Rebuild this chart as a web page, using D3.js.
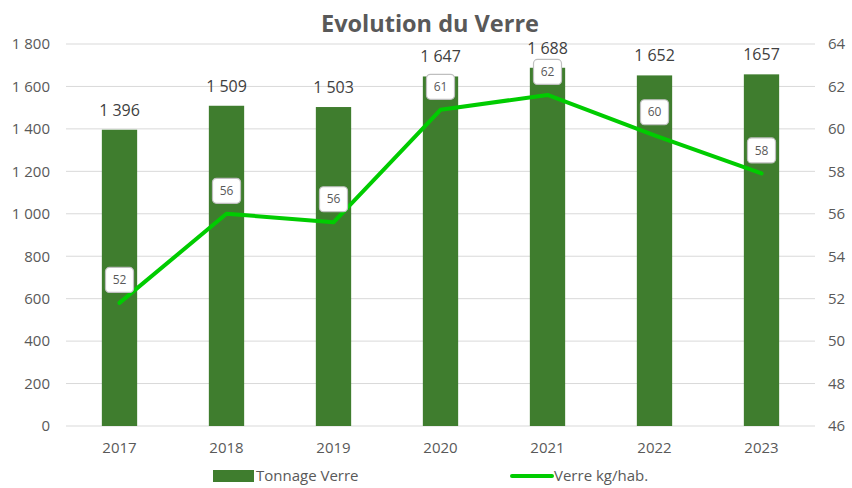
<!DOCTYPE html>
<html>
<head>
<meta charset="utf-8">
<script src="https://cdn.jsdelivr.net/npm/d3@7"></script>
<style>
  body { margin: 0; background: #fff; }
  svg text { font-family: "Open Sans", Lato, sans-serif; }
</style>
</head>
<body>
<svg id="chart" width="852" height="488"></svg>
<script>
// data
var years = ["2017", "2018", "2019", "2020", "2021", "2022", "2023"];
var tonnage = [1396, 1509, 1503, 1647, 1688, 1652, 1657];
var tonnageLabels = ["1 396", "1 509", "1 503", "1 647", "1 688", "1 652", "1657"];
var kgHab = [51.8, 56.0, 55.6, 60.9, 61.6, 59.7, 57.9];
var leftTicks = [0, 200, 400, 600, 800, 1000, 1200, 1400, 1600, 1800];
var rightTicks = [46, 48, 50, 52, 54, 56, 58, 60, 62, 64];

var svg = d3.select("#chart");
var margin = {left: 66, right: 37, top: 44, bottom: 62};
var width = +svg.attr("width"), height = +svg.attr("height");
var x0 = margin.left, x1 = width - margin.right;
var yBottom = height - margin.bottom, yTop = margin.top;

var textColor = "#595959";
var fmt = function (v) { return d3.format(",")(v).replace(/,/g, " "); };

var x = d3.scaleBand().domain(years).range([x0, x1]).paddingInner(0.67).paddingOuter(0.335);
var yL = d3.scaleLinear().domain([0, 1800]).range([yBottom, yTop]);
var yR = d3.scaleLinear().domain([46, 64]).range([yBottom, yTop]);

// title
svg.append("text")
    .attr("x", 430).attr("y", 32)
    .attr("text-anchor", "middle")
    .attr("font-size", "23.5px").attr("font-weight", "bold")
    .attr("fill", textColor)
    .text("Evolution du Verre");

// gridlines
svg.append("g").selectAll("line")
    .data(leftTicks).enter().append("line")
    .attr("x1", x0).attr("x2", x1)
    .attr("y1", function (d) { return yL(d); })
    .attr("y2", function (d) { return yL(d); })
    .attr("stroke", "#d9d9d9").attr("stroke-width", 1);

// left axis
var axL = svg.append("g")
    .attr("transform", "translate(" + x0 + ",0)")
    .call(d3.axisLeft(yL).tickValues(leftTicks).tickFormat(fmt).tickSize(0).tickPadding(16));
axL.select(".domain").remove();
axL.selectAll("text").attr("font-size", "15px").attr("fill", textColor).style("font-family", "'Open Sans', sans-serif");

// right axis
var axR = svg.append("g")
    .attr("transform", "translate(" + x1 + ",0)")
    .call(d3.axisRight(yR).tickValues(rightTicks).tickSize(0).tickPadding(13));
axR.select(".domain").remove();
axR.selectAll("text").attr("font-size", "15px").attr("fill", textColor).style("font-family", "'Open Sans', sans-serif");

// x axis
var axX = svg.append("g")
    .attr("transform", "translate(0," + yBottom + ")")
    .call(d3.axisBottom(x).tickSize(0).tickPadding(16));
axX.select(".domain").remove();
axX.selectAll("text").attr("font-size", "15px").attr("fill", textColor).style("font-family", "'Open Sans', sans-serif");

// bars
svg.append("g").selectAll("rect")
    .data(tonnage).enter().append("rect")
    .attr("x", function (d, i) { return x(years[i]); })
    .attr("y", function (d) { return yL(d); })
    .attr("width", x.bandwidth())
    .attr("height", function (d) { return yBottom - yL(d); })
    .attr("fill", "#3f7d2e");

// bar labels
svg.append("g").selectAll("text")
    .data(tonnage).enter().append("text")
    .attr("x", function (d, i) { return x(years[i]) + x.bandwidth() / 2; })
    .attr("y", function (d) { return yL(d) - 14; })
    .attr("text-anchor", "middle")
    .attr("font-size", "16px")
    .attr("fill", "#404040")
    .text(function (d, i) { return tonnageLabels[i]; });

// line
var line = d3.line()
    .x(function (d, i) { return x(years[i]) + x.bandwidth() / 2; })
    .y(function (d) { return yR(d); });

svg.append("path")
    .datum(kgHab)
    .attr("d", line)
    .attr("fill", "none")
    .attr("stroke", "#00cc00")
    .attr("stroke-width", 4)
    .attr("stroke-linecap", "round")
    .attr("stroke-linejoin", "round");

// line labels in boxes
var lab = svg.append("g").selectAll("g")
    .data(kgHab).enter().append("g")
    .attr("transform", function (d, i) {
        return "translate(" + (x(years[i]) + x.bandwidth() / 2) + "," + (yR(d) - 23) + ")";
    });
lab.append("rect")
    .attr("x", -14).attr("y", -12.5).attr("width", 28).attr("height", 25)
    .attr("rx", 4)
    .attr("fill", "#fff").attr("stroke", "#bfbfbf").attr("stroke-width", 1.2);
lab.append("text")
    .attr("text-anchor", "middle").attr("dy", "0.35em")
    .attr("font-size", "12px").attr("fill", textColor)
    .text(function (d) { return Math.round(d); });

// legend
var leg = svg.append("g").attr("transform", "translate(0,476)");
leg.append("rect").attr("x", 213).attr("y", -6).attr("width", 41).attr("height", 12).attr("fill", "#3f7d2e");
leg.append("text").attr("x", 256).attr("y", 0).attr("dy", "0.35em")
    .attr("font-size", "15px").attr("fill", textColor).text("Tonnage Verre");
leg.append("line").attr("x1", 512).attr("x2", 552).attr("y1", 0).attr("y2", 0)
    .attr("stroke", "#00cc00").attr("stroke-width", 4).attr("stroke-linecap", "round");
leg.append("text").attr("x", 554).attr("y", 0).attr("dy", "0.35em")
    .attr("font-size", "15px").attr("fill", textColor).text("Verre kg/hab.");
</script>
</body>
</html>
